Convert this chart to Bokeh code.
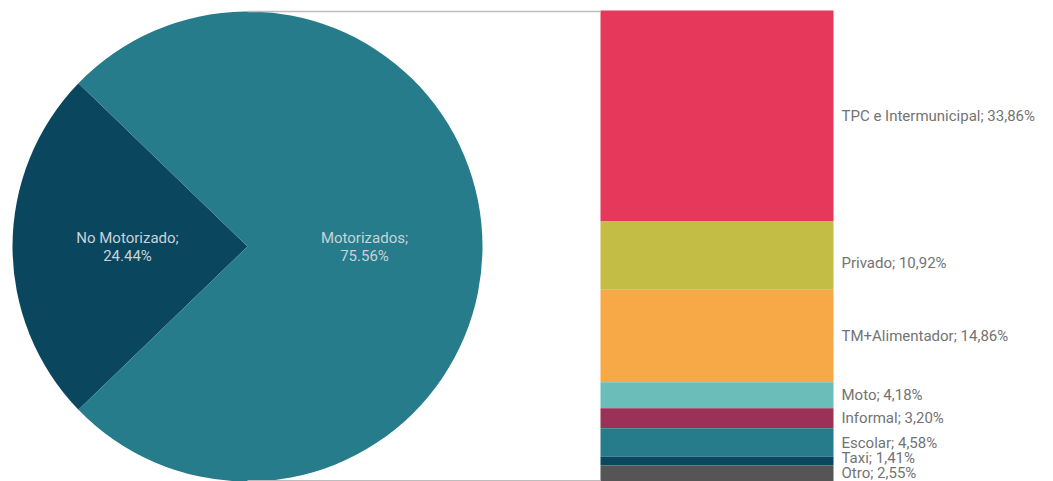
import math
from bokeh.plotting import figure
from bokeh.models import Range1d, ColumnDataSource
from bokeh.core.properties import value
from bokeh.embed import file_html
from bokeh.resources import INLINE

# ---- data ----
pie_labels = ["No Motorizado;", "Motorizados;"]
pie_pct_text = ["24.44%", "75.56%"]
pie_values = [24.44, 75.56]
pie_colors = ["#0B465F", "#267C8B"]

bar_labels = ["TPC e Intermunicipal", "Privado", "TM+Alimentador", "Moto",
              "Informal", "Escolar", "Taxi", "Otro"]
bar_values = [33.86, 10.92, 14.86, 4.18, 3.20, 4.58, 1.41, 2.55]
bar_text = ["33,86%", "10,92%", "14,86%", "4,18%", "3,20%", "4,58%", "1,41%", "2,55%"]
bar_colors = ["#E6385A", "#C3BC45", "#F7A947", "#6ABDB9",
              "#9B3157", "#267C8B", "#0B465F", "#555555"]

# label nudges in screen pixels (style; positive = down)
label_dy = [0, 7, 0, 0, 0, 0, -3, -1]

W, H = 1053, 481
FONT = value("Roboto")

p = figure(width=W, height=H, x_range=Range1d(0, W), y_range=Range1d(0, H),
           output_backend="svg", toolbar_location=None, min_border=0)
p.axis.visible = False
p.grid.visible = False
p.outline_line_color = None
p.background_fill_color = "white"
p.border_fill_color = "white"

# ---- pie ----
cx, cy, r = 247, 235, 235
total = sum(pie_values)
half = pie_values[0] / total * math.pi
starts = [math.pi - half, math.pi + half]
ends = [math.pi + half, math.pi - half + 2 * math.pi]
pie_src = ColumnDataSource(dict(start=starts, end=ends, color=pie_colors))
p.wedge(x=cx, y=cy, radius=r, start_angle="start", end_angle="end",
        fill_color="color", line_color=None, source=pie_src)

p.text(x=[127, 127], y=[cy + 9, cy - 9], text=[pie_labels[0], pie_pct_text[0]],
       text_font=FONT, text_font_size="15px", text_color="#C7D3D8",
       text_align="center", text_baseline="middle")
p.text(x=[364, 364], y=[cy + 9, cy - 9], text=[pie_labels[1], pie_pct_text[1]],
       text_font=FONT, text_font_size="15px", text_color="#C7D3D8",
       text_align="center", text_baseline="middle")

# ---- stacked bar ----
bar_sum = sum(bar_values)
bar_px = 471.0
p.extra_y_ranges = {"bars": Range1d(0, bar_sum * H / bar_px)}
tops, bottoms = [], []
acc = bar_sum
for v in bar_values:
    tops.append(acc)
    bottoms.append(acc - v)
    acc -= v
mids = [(t + b) / 2 for t, b in zip(tops, bottoms)]
bar_src = ColumnDataSource(dict(top=tops, bottom=bottoms, color=bar_colors,
                                mid=mids, dy=label_dy,
                                label=[f"{l}; {t}" for l, t in zip(bar_labels, bar_text)]))
p.quad(left=600, right=833, top="top", bottom="bottom", fill_color="color",
       line_color=None, source=bar_src, y_range_name="bars")
p.text(x=841, y="mid", y_offset="dy", text="label", source=bar_src, y_range_name="bars",
       text_font=FONT, text_font_size="15px", text_color="#737373",
       text_align="left", text_baseline="middle")

# connector lines
p.line(x=[cx, 600], y=[cy + r, cy + r], line_color="#BDBDBD", line_width=1.5)
p.line(x=[cx, 600], y=[0.7, 0.7], line_color="#BDBDBD", line_width=1.5)

open("out.html", "w").write(file_html(p, INLINE))
